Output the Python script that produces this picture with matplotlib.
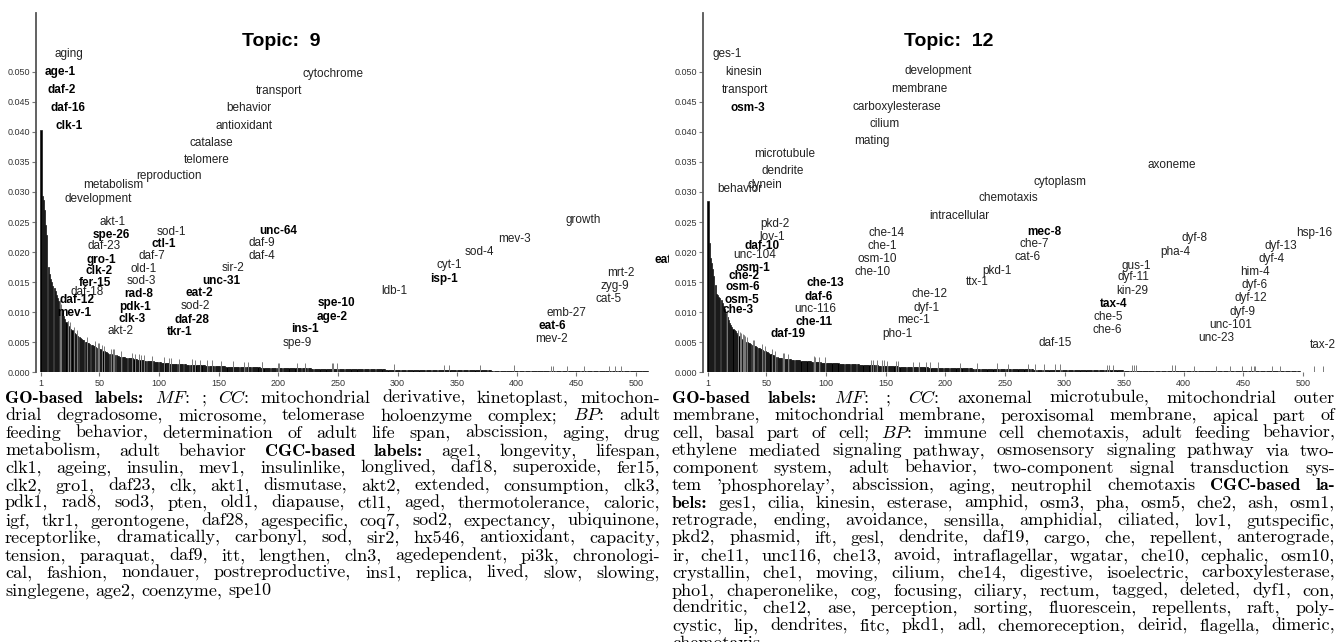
import matplotlib
matplotlib.use('Agg')
import matplotlib.pyplot as plt
import numpy as np

plt.rcParams['mathtext.fontset'] = 'cm'

# ---------------- data (bar heights in units of 1e-5) ----------------
topic9_vals = [
    4030, 2940, 2860, 2700, 2450, 2280, 1750, 1630, 1560, 1500,
    1440, 1400, 1350, 1290, 1240, 1180, 1120, 1050, 980, 930,
    880, 830, 800, 770, 750, 720, 700, 680, 660, 640,
    620, 600, 590, 570, 550, 540, 530, 510, 500, 490,
    480, 470, 460, 450, 440, 430, 420, 410, 400, 390,
    380, 370, 360, 350, 340, 330, 320, 310, 300, 300,
    290, 290, 280, 280, 270, 270, 260, 260, 250, 250,
    250, 240, 240, 240, 230, 230, 230, 230, 220, 220,
    220, 210, 210, 210, 200, 200, 200, 195, 195, 190,
    190, 185, 185, 180, 180, 178, 175, 172, 170, 168,
    165, 162, 160, 158, 155, 152, 150, 148, 146, 144,
    142, 140, 139, 138, 137, 136, 135, 134, 133, 132,
    131, 130, 129, 128, 127, 126, 125, 124, 123, 122,
    121, 120, 119, 118, 117, 116, 115, 114, 113, 112,
    111, 110, 109, 108, 107, 106, 105, 104, 103, 102,
    101, 100, 99, 98, 97, 96, 95, 94, 93, 92,
    91, 90, 90, 89, 89, 88, 88, 87, 87, 86,
    86, 85, 85, 84, 84, 83, 83, 82, 82, 81,
    81, 80, 80, 80, 79, 79, 78, 78, 78, 77,
    77, 76, 76, 76, 75, 75, 74, 74, 74, 73,
    73, 72, 72, 72, 71, 71, 70, 70, 70, 69,
    69, 69, 68, 68, 68, 67, 67, 67, 66, 66,
    66, 65, 65, 65, 64, 64, 64, 63, 63, 63,
    62, 62, 62, 61, 61, 61, 60, 60, 60, 60,
    59, 59, 59, 58, 58, 58, 58, 57, 57, 57,
    57, 56, 56, 56, 55, 55, 55, 55, 54, 54,
    54, 54, 53, 53, 53, 52, 52, 52, 52, 51,
    51, 51, 51, 50, 50, 50, 50, 49, 49, 49,
    49, 48, 48, 48, 48, 47, 47, 47, 47, 46,
    46, 46, 46, 46, 45, 45, 45, 45, 44, 44,
    44, 44, 44, 43, 43, 43, 43, 42, 42, 42,
    42, 42, 41, 41, 41, 41, 41, 40, 40, 40,
    40, 40, 39, 39, 39, 39, 39, 38, 38, 38,
    38, 38, 37, 37, 37, 37, 37, 36, 36, 36,
    36, 36, 36, 35, 35, 35, 35, 35, 34, 34,
    34, 34, 34, 34, 33, 33, 33, 33, 33, 33,
    32, 32, 32, 32, 32, 32, 31, 31, 31, 31,
    31, 31, 30, 30, 30, 30, 30, 30, 29, 29,
    29, 29, 29, 29, 29, 28, 28, 28, 28, 28,
    28, 28, 27, 27, 27, 27, 27, 27, 27, 26,
    26, 26, 26, 26, 26, 26, 25, 25, 25, 25,
    25, 25, 25, 25, 24, 24, 24, 24, 24, 24,
    24, 24, 23, 23, 23, 23, 23, 23, 23, 23,
    22, 22, 22, 22, 22, 22, 22, 22, 21, 21,
    21, 21, 21, 21, 21, 21, 21, 20, 20, 20,
    20, 20, 20, 20, 20, 20, 19, 19, 19, 19,
    19, 19, 19, 19, 19, 18, 18, 18, 18, 18,
    18, 18, 18, 18, 17, 17, 17, 17, 17, 17,
    17, 17, 17, 16, 16, 16, 16, 16, 16, 16,
    16, 16, 15, 15, 15, 15, 15, 15, 15, 15,
    15, 14, 14, 14, 14, 14, 14, 14, 14, 14,
    13, 13, 13, 13, 13, 13, 13, 13, 13, 12,
    12, 12, 12, 12, 12,
]

topic12_vals = [
    2850, 2150, 1900, 1820, 1720, 1600, 1450, 1300, 1280, 1260,
    1230, 1200, 1150, 1100, 1050, 980, 920, 870, 820, 780,
    750, 720, 700, 680, 650, 620, 600, 580, 560, 540,
    530, 520, 510, 500, 490, 480, 470, 460, 450, 440,
    430, 420, 410, 400, 390, 380, 370, 360, 350, 340,
    330, 320, 310, 300, 290, 280, 270, 260, 250, 245,
    240, 235, 230, 228, 225, 222, 220, 218, 216, 214,
    212, 210, 208, 206, 204, 202, 200, 198, 196, 194,
    192, 190, 188, 186, 184, 182, 180, 178, 176, 174,
    172, 170, 168, 166, 164, 162, 160, 159, 158, 157,
    156, 155, 154, 153, 152, 151, 150, 149, 148, 147,
    146, 145, 144, 143, 142, 141, 140, 139, 138, 137,
    136, 135, 134, 133, 132, 131, 130, 129, 128, 127,
    126, 125, 124, 123, 122, 121, 120, 119, 118, 117,
    116, 115, 114, 113, 112, 111, 110, 109, 108, 107,
    106, 105, 104, 103, 102, 101, 100, 99, 98, 97,
    96, 95, 94, 93, 92, 91, 90, 89, 88, 87,
    87, 86, 86, 85, 85, 84, 84, 83, 83, 82,
    82, 81, 81, 80, 80, 79, 79, 78, 78, 77,
    77, 76, 76, 75, 75, 74, 74, 73, 73, 72,
    72, 71, 71, 70, 70, 69, 69, 68, 68, 68,
    67, 67, 67, 66, 66, 66, 65, 65, 65, 64,
    64, 64, 63, 63, 63, 62, 62, 62, 61, 61,
    61, 60, 60, 60, 59, 59, 59, 58, 58, 58,
    57, 57, 57, 56, 56, 56, 55, 55, 55, 54,
    54, 54, 53, 53, 53, 52, 52, 52, 51, 51,
    51, 50, 50, 50, 49, 49, 49, 48, 48, 48,
    47, 47, 47, 46, 46, 46, 45, 45, 45, 44,
    44, 44, 44, 43, 43, 43, 43, 42, 42, 42,
    42, 41, 41, 41, 41, 40, 40, 40, 40, 39,
    39, 39, 39, 38, 38, 38, 38, 37, 37, 37,
    37, 37, 36, 36, 36, 36, 35, 35, 35, 35,
    35, 34, 34, 34, 34, 34, 33, 33, 33, 33,
    33, 32, 32, 32, 32, 32, 32, 31, 31, 31,
    31, 31, 31, 30, 30, 30, 30, 30, 30, 29,
    29, 29, 29, 29, 29, 29, 28, 28, 28, 28,
    28, 28, 28, 27, 27, 27, 27, 27, 27, 27,
    26, 26, 26, 26, 26, 26, 26, 25, 25, 25,
    25, 25, 25, 25, 25, 24, 24, 24, 24, 24,
    24, 24, 24, 23, 23, 23, 23, 23, 23, 23,
    23, 22, 22, 22, 22, 22, 22, 22, 22, 22,
    21, 21, 21, 21, 21, 21, 21, 21, 21, 20,
    20, 20, 20, 20, 20, 20, 20, 20, 20, 19,
    19, 19, 19, 19, 19, 19, 19, 19, 19, 18,
    18, 18, 18, 18, 18, 18, 18, 18, 18, 18,
    17, 17, 17, 17, 17, 17, 17, 17, 17, 17,
    17, 16, 16, 16, 16, 16, 16, 16, 16, 16,
    16, 16, 16, 15, 15, 15, 15, 15, 15, 15,
    15, 15, 15, 15, 15, 14, 14, 14, 14, 14,
    14, 14, 14, 14, 14, 14, 14, 13, 13, 13,
    13, 13, 13, 13, 13, 13, 13, 13, 13, 13,
    12, 12, 12, 12, 12, 12, 12, 12, 12, 12,
    12, 12, 12, 12, 12,
]

# ---------------- word labels: text, rank (x), height (y), bold ----------------
topic9_words = ["aging", "age-1", "daf-2", "daf-16", "clk-1", "cytochrome", "transport",
                "behavior", "antioxidant", "catalase", "telomere", "reproduction",
                "metabolism", "development", "akt-1", "spe-26", "daf-23", "gro-1",
                "clk-2", "fer-15", "daf-18", "daf-12", "mev-1", "sod-1", "ctl-1",
                "daf-7", "old-1", "sod-3", "rad-8", "pdk-1", "clk-3", "akt-2",
                "unc-64", "daf-9", "daf-4", "sir-2", "unc-31", "eat-2", "sod-2",
                "daf-28", "tkr-1", "spe-10", "age-2", "ins-1", "spe-9", "ldb-1",
                "growth", "mev-3", "sod-4", "cyt-1", "isp-1", "emb-27", "eat-6",
                "mev-2", "mrt-2", "zyg-9", "cat-5", "eat-4"]
topic9_rank = [24, 17, 18, 24, 25, 246, 201, 175, 171, 144, 140, 108,
               62, 49, 61, 60, 54, 52, 50, 46, 40, 31, 29, 110, 104,
               94, 87, 85, 83, 80, 77, 68, 200, 186, 186, 162, 152, 134, 130,
               128, 117, 249, 245, 222, 216, 297, 456, 398, 369, 343, 339, 442, 430,
               429, 487, 482, 477, 527]
topic9_y = [0.05294, 0.05000, 0.04696, 0.04401, 0.04097, 0.04962, 0.04684,
            0.04391, 0.04097, 0.03809, 0.03531, 0.03265, 0.03115, 0.02883,
            0.02495, 0.02284, 0.02101, 0.01868, 0.01690, 0.01490, 0.01341,
            0.01203, 0.00991, 0.02329, 0.02134, 0.01929, 0.01713, 0.01519,
            0.01302, 0.01086, 0.00887, 0.00687, 0.02355, 0.02151, 0.01929,
            0.01730, 0.01519, 0.01314, 0.01098, 0.00870, 0.00665, 0.01148,
            0.00925, 0.00720, 0.00492, 0.01352, 0.02533, 0.02212, 0.02001,
            0.01780, 0.01557, 0.00981, 0.00770, 0.00549, 0.01647, 0.01430,
            0.01219, 0.01863]
topic9_bold = ["age-1", "daf-2", "daf-16", "clk-1", "spe-26", "gro-1", "clk-2", "fer-15",
               "daf-12", "mev-1", "ctl-1", "rad-8", "pdk-1", "clk-3", "unc-64", "unc-31",
               "eat-2", "daf-28", "tkr-1", "spe-10", "age-2", "ins-1", "isp-1", "eat-6",
               "eat-4"]

topic12_words = ["ges-1", "kinesin", "transport", "osm-3", "development", "membrane",
                 "carboxylesterase", "cilium", "mating", "microtubule", "dendrite",
                 "dynein", "behavior", "axoneme", "cytoplasm", "chemotaxis",
                 "intracellular", "pkd-2", "lov-1", "daf-10", "unc-104", "osm-1",
                 "che-2", "osm-6", "osm-5", "che-3", "che-14", "che-1", "osm-10",
                 "che-10", "che-13", "daf-6", "unc-116", "che-11", "daf-19", "che-12",
                 "dyf-1", "mec-1", "pho-1", "ttx-1", "pkd-1", "mec-8", "che-7", "cat-6",
                 "gus-1", "dyf-11", "kin-29", "tax-4", "che-5", "che-6", "daf-15",
                 "dyf-8", "pha-4", "hsp-16", "dyf-13", "dyf-4", "him-4", "dyf-6",
                 "dyf-12", "dyf-9", "unc-101", "unc-23", "tax-2"]
topic12_rank = [17, 31, 32, 34, 194, 178, 159, 149, 138, 65, 64, 49, 28, 390, 296, 253,
                212, 57, 55, 46, 40, 39, 31, 30, 29, 26, 151, 147, 143, 139, 99, 94,
                91, 90, 68, 187, 184, 173, 160, 227, 243, 283, 275, 269, 360, 358, 357,
                341, 337, 336, 292, 409, 393, 509, 481, 474, 460, 459, 456, 449, 439,
                427, 517]
topic12_y = [0.05294, 0.04995, 0.04696, 0.04401, 0.05017, 0.04707, 0.04418, 0.04130,
             0.03847, 0.03626, 0.03348, 0.03115, 0.03044, 0.03448, 0.03170, 0.02899,
             0.02600, 0.02472, 0.02255, 0.02101, 0.01946, 0.01730, 0.01607, 0.01414,
             0.01203, 0.01036, 0.02322, 0.02101, 0.01880, 0.01663, 0.01480, 0.01257,
             0.01058, 0.00832, 0.00637, 0.01297, 0.01075, 0.00870, 0.00637, 0.01497,
             0.01690, 0.02339, 0.02129, 0.01913, 0.01773, 0.01580, 0.01357, 0.01136,
             0.00925, 0.00704, 0.00482, 0.02229, 0.02006, 0.02322, 0.02101, 0.01880,
             0.01668, 0.01447, 0.01231, 0.00998, 0.00787, 0.00566, 0.00454]
topic12_bold = ["osm-3", "daf-10", "osm-1", "che-2", "osm-6", "osm-5", "che-3", "che-13",
                "daf-6", "che-11", "daf-19", "mec-8", "tax-4"]

x_ticks = [1, 50, 100, 150, 200, 250, 300, 350, 400, 450, 500]
y_ticks = [0.000, 0.005, 0.010, 0.015, 0.020, 0.025, 0.030, 0.035, 0.040, 0.045, 0.050]
titles = ["Topic:  9", "Topic:  12"]

caption_left = [
    "**GO-based labels:** *MF:* ; *CC:* mitochondrial derivative, kinetoplast, mitochon-",
    "drial degradosome, microsome, telomerase holoenzyme complex; *BP:* adult",
    "feeding behavior, determination of adult life span, abscission, aging, drug",
    "metabolism, adult behavior **CGC-based labels:** age1, longevity, lifespan,",
    "clk1, ageing, insulin, mev1, insulinlike, longlived, daf18, superoxide, fer15,",
    "clk2, gro1, daf23, clk, akt1, dismutase, akt2, extended, consumption, clk3,",
    "pdk1, rad8, sod3, pten, old1, diapause, ctl1, aged, thermotolerance, caloric,",
    "igf, tkr1, gerontogene, daf28, agespecific, coq7, sod2, expectancy, ubiquinone,",
    "receptorlike, dramatically, carbonyl, sod, sir2, hx546, antioxidant, capacity,",
    "tension, paraquat, daf9, itt, lengthen, cln3, agedependent, pi3k, chronologi-",
    "cal, fashion, nondauer, postreproductive, ins1, replica, lived, slow, slowing,",
    "singlegene, age2, coenzyme, spe10",
]
caption_right = [
    "**GO-based labels:** *MF:* ; *CC:* axonemal microtubule, mitochondrial outer",
    "membrane, mitochondrial membrane, peroxisomal membrane, apical part of",
    "cell, basal part of cell; *BP:* immune cell chemotaxis, adult feeding behavior,",
    "ethylene mediated signaling pathway, osmosensory signaling pathway via two-",
    "component system, adult behavior, two-component signal transduction sys-",
    "tem 'phosphorelay', abscission, aging, neutrophil chemotaxis **CGC-based la-**",
    "**bels:** ges1, cilia, kinesin, esterase, amphid, osm3, pha, osm5, che2, ash, osm1,",
    "retrograde, ending, avoidance, sensilla, amphidial, ciliated, lov1, gutspecific,",
    "pkd2, phasmid, ift, gesl, dendrite, daf19, cargo, che, repellent, anterograde,",
    "ir, che11, unc116, che13, avoid, intraflagellar, wgatar, che10, cephalic, osm10,",
    "crystallin, che1, moving, cilium, che14, digestive, isoelectric, carboxylesterase,",
    "pho1, chaperonelike, cog, focusing, ciliary, rectum, tagged, deleted, dyf1, con,",
    "dendritic, che12, ase, perception, sorting, fluorescein, repellents, raft, poly-",
    "cystic, lip, dendrites, fitc, pkd1, adl, chemoreception, deirid, flagella, dimeric,",
    "chemotaxis",
]

# ---------------- figure ----------------
W, H = 1339, 642
fig = plt.figure(figsize=(W / 100, H / 100), dpi=100)

AX_BOTTOM_PX = 372.3
AX_H_PX = 359.0
AX_W_PX = 633.0
PX_PER_Y = 6012.0
PX_PER_X = 1.1924
X_LEFT = -3.19
LABEL_FONT = 'Liberation Sans'


def make_panel(left_px, vals_1e5, words, ranks, ys, bold, title):
    ax = fig.add_axes([left_px / W, (H - AX_BOTTOM_PX) / H, AX_W_PX / W, AX_H_PX / H])
    vals = np.array(vals_1e5, dtype=float) * 1e-5
    x = np.arange(1, len(vals) + 1)
    ax.bar(x, vals, width=0.9, color='black', edgecolor='#1a1a1a', linewidth=0.5)
    # thin marker lines at labelled ranks
    rk = np.array(ranks)
    inside = rk <= len(vals)
    ax.vlines(rk[inside], 0, vals[rk[inside] - 1] + 0.0009, color='#7a7a7a', lw=0.7)
    for w, r, y in zip(words, ranks, ys):
        b = w in bold
        ax.text(r, y, w, ha='center', va='center', fontsize=8.5, family=LABEL_FONT,
                fontweight='bold' if b else 'normal', color='#000000' if b else '#222222',
                clip_on=True)
    ax.set_xlim(X_LEFT, X_LEFT + AX_W_PX / PX_PER_X)
    ax.set_ylim(0, AX_H_PX / PX_PER_Y)
    for s in ['top', 'right', 'bottom']:
        ax.spines[s].set_visible(False)
    ax.spines['left'].set_color('#555555')
    ax.spines['left'].set_linewidth(1.3)
    ax.set_xticks(x_ticks)
    ax.set_xticklabels([str(t) for t in x_ticks])
    ax.set_yticks(y_ticks)
    ax.set_yticklabels(['%.3f' % t for t in y_ticks])
    ax.tick_params(axis='both', labelsize=6.5, labelcolor='#333333', color='#777777',
                   length=3, width=0.8, pad=1.5)
    for lab in ax.get_xticklabels() + ax.get_yticklabels():
        lab.set_family(LABEL_FONT)
    ax.text(0.388, 0.922, title, transform=ax.transAxes, ha='center', va='center',
            fontsize=14, fontweight='bold', family=LABEL_FONT)
    return ax


make_panel(36, topic9_vals, topic9_words, topic9_rank, topic9_y, topic9_bold, titles[0])
make_panel(703, topic12_vals, topic12_words, topic12_rank, topic12_y, topic12_bold, titles[1])

# ---------------- justified captions ----------------
CAP_FS = 13.0
renderer = fig.canvas.get_renderer()


def parse(line):
    toks = []
    style = 'r'
    for w in line.split(' '):
        st = style
        if w.startswith('**'):
            st = 'b'
            w = w[2:]
            style = 'b'
        elif w.startswith('*'):
            st = 'i'
            w = w[1:]
            style = 'i'
        if w.endswith('**'):
            w = w[:-2]
            style = 'r'
        elif w.endswith('*') and st == 'i':
            w = w[:-1]
            style = 'r'
        toks.append((w, st))
    return toks


def make_token(s, st, ypx):
    if st == 'b':
        kw = dict(family='cmb10')
        txt = s
    elif st == 'i':
        kw = dict(family='cmr10')
        core = s.rstrip(':')
        txt = r'$%s$' % core + s[len(core):]
    else:
        kw = dict(family='cmr10')
        txt = s
    return fig.text(0, 1 - ypx / H, txt, fontsize=CAP_FS, va='baseline', ha='left',
                    color='black', **kw)


def space_width():
    probe = fig.text(0, 0, 'a a', fontsize=CAP_FS, family='cmr10')
    probe2 = fig.text(0, 0, 'aa', fontsize=CAP_FS, family='cmr10')
    sw = probe.get_window_extent(renderer).width - probe2.get_window_extent(renderer).width
    probe.remove()
    probe2.remove()
    return sw


def draw_caption(lines, x0, x1, base0, step):
    sw = space_width()
    for i, line in enumerate(lines):
        ypx = base0 + i * step
        toks = parse(line)
        texts = [make_token(s, st, ypx) for s, st in toks]
        widths = [t.get_window_extent(renderer).width for t in texts]
        last = (i == len(lines) - 1)
        if last or len(texts) < 2:
            gap = sw
        else:
            gap = (x1 - x0 - sum(widths)) / (len(texts) - 1)
        xc = x0
        for t, wdt in zip(texts, widths):
            t.set_x(xc / W)
            xc += wdt + gap


draw_caption(caption_left, 5, 660, 403, 17.5)
draw_caption(caption_right, 672, 1335, 403, 17.5)

fig.savefig('out.png', dpi=100)
